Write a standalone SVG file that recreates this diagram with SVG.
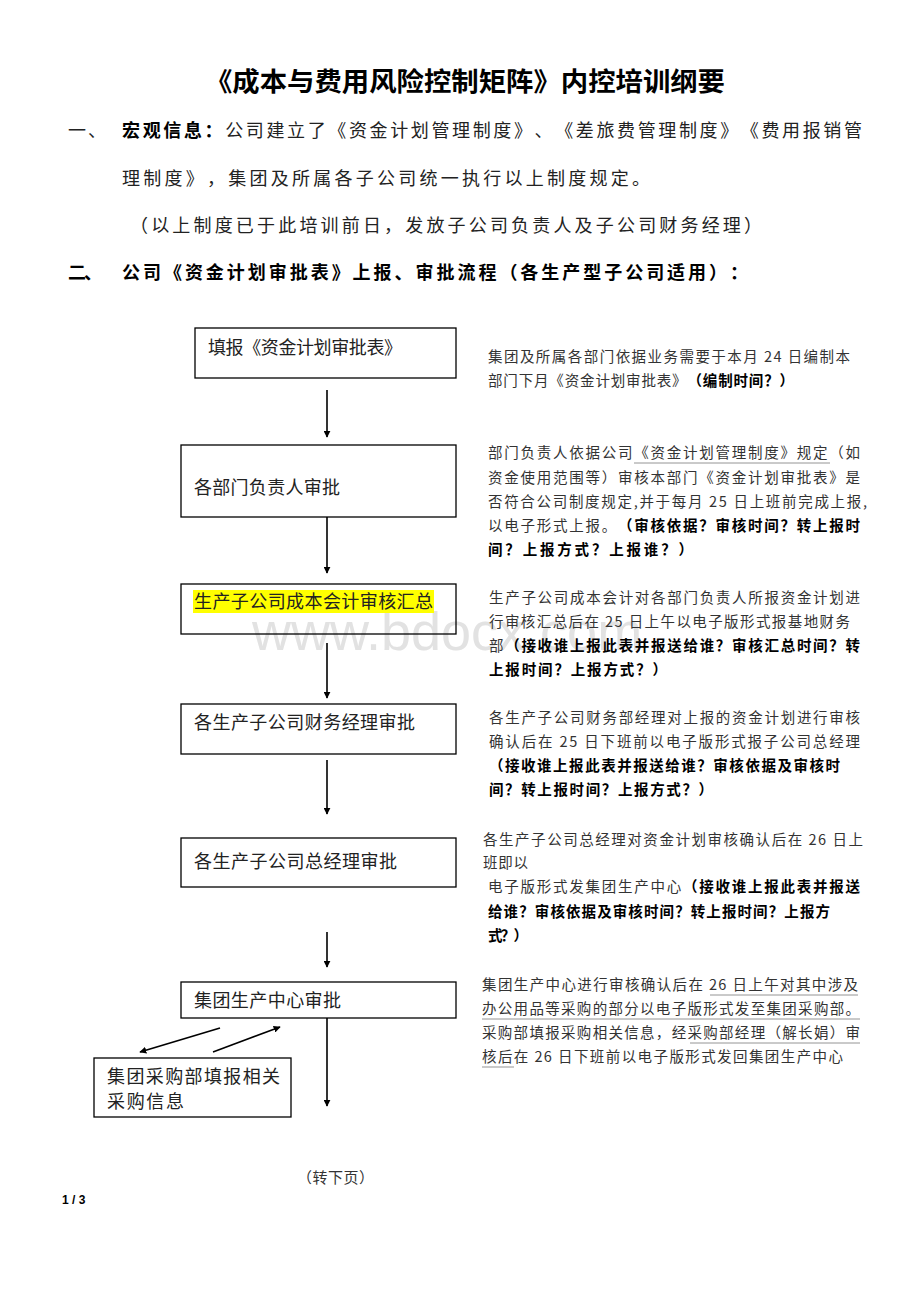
<svg xmlns="http://www.w3.org/2000/svg" width="920" height="1302" viewBox="0 0 920 1302">
<style>
text{font-family:"Noto Sans CJK SC","Liberation Sans",sans-serif;fill:#222;text-spacing-trim:space-all}
.t{font-size:18px}
.h{font-size:18px;font-weight:bold;fill:#000}
.r{font-size:14.5px;fill:#333}
.b{font-weight:bold;fill:#000}
.box{fill:none;stroke:#000;stroke-width:1.3}
.lbl{font-size:18px;fill:#222}
.ar{stroke:#000;stroke-width:1.6;fill:none;marker-end:url(#ah)}
.ul{stroke:#888;stroke-width:0.9}
.wm{font-family:"Liberation Sans",sans-serif;font-size:54px;fill:#e2e2e2}
</style>
<defs>
<marker id="ah" viewBox="0 0 10 10" refX="9" refY="5" markerWidth="7" markerHeight="7" markerUnits="userSpaceOnUse" orient="auto">
<path d="M0,0 L10,5 L0,10 z" fill="#000"/>
</marker>
</defs>
<rect width="920" height="1302" fill="#fff"/>
<text class="wm" x="252" y="650">www.bdocx.com</text>

<g id="header">
<text x="205" y="91" style="font-size:26px;font-weight:bold;fill:#000" textLength="520" lengthAdjust="spacingAndGlyphs">《成本与费用风险控制矩阵》内控培训纲要</text>
<text x="68" y="137" class="t" textLength="38" lengthAdjust="spacing">一、</text>
<text x="122" y="137" class="t" textLength="740" lengthAdjust="spacing"><tspan class="b">宏观信息：</tspan>公司建立了《资金计划管理制度》、《差旅费管理制度》《费用报销管</text>
<text x="122" y="185" class="t" textLength="528" lengthAdjust="spacing">理制度》，集团及所属各子公司统一执行以上制度规定。</text>
<text x="130" y="232" class="t" textLength="632" lengthAdjust="spacing">（以上制度已于此培训前日，发放子公司负责人及子公司财务经理）</text>
<text x="68" y="279" class="h" textLength="34" lengthAdjust="spacing">二、</text>
<text x="122" y="279" class="h" textLength="626" lengthAdjust="spacing">公司《资金计划审批表》上报、审批流程（各生产型子公司适用）：</text>
</g>

<g id="connectors">
<line class="ar" x1="327" y1="390" x2="327" y2="437"/>
<line class="ar" x1="327" y1="517" x2="327" y2="573"/>
<line class="ar" x1="327" y1="643" x2="327" y2="698"/>
<line class="ar" x1="327" y1="760" x2="327" y2="814"/>
<line class="ar" x1="327" y1="932" x2="327" y2="967"/>
<line class="ar" x1="327" y1="1018" x2="327" y2="1106"/>
<line class="ar" x1="220" y1="1028" x2="140" y2="1052"/>
<line class="ar" x1="213" y1="1052" x2="280" y2="1027"/>
</g>

<g id="n1">
<rect class="box" x="195" y="328" width="261" height="50"/>
<text class="lbl" x="208" y="354" textLength="194" lengthAdjust="spacing">填报《资金计划审批表》</text>
</g>
<g id="n2">
<rect class="box" x="181" y="445" width="275" height="72"/>
<text class="lbl" x="194" y="494" textLength="146" lengthAdjust="spacing">各部门负责人审批</text>
</g>
<g id="n3">
<rect class="box" x="181" y="584" width="275" height="50"/>
<rect x="193" y="590" width="241" height="23" fill="#ffff00"/>
<text class="lbl" x="194" y="608" textLength="239" lengthAdjust="spacing">生产子公司成本会计审核汇总</text>
</g>
<g id="n4">
<rect class="box" x="181" y="704" width="275" height="50"/>
<text class="lbl" x="194" y="729" textLength="221" lengthAdjust="spacing">各生产子公司财务经理审批</text>
</g>
<g id="n5">
<rect class="box" x="181" y="838" width="275" height="49"/>
<text class="lbl" x="194" y="868" textLength="203" lengthAdjust="spacing">各生产子公司总经理审批</text>
</g>
<g id="n6">
<rect class="box" x="181" y="982" width="275" height="36"/>
<text class="lbl" x="194" y="1007" textLength="147" lengthAdjust="spacing">集团生产中心审批</text>
</g>
<g id="n7">
<rect class="box" x="94" y="1058" width="197" height="59"/>
<text class="lbl" x="107" y="1083" textLength="173" lengthAdjust="spacing">集团采购部填报相关</text>
<text class="lbl" x="107" y="1108" textLength="77" lengthAdjust="spacing">采购信息</text>
</g>

<g id="note1">
<text class="r" x="488" y="362" textLength="362" lengthAdjust="spacing">集团及所属各部门依据业务需要于本月 24 日编制本</text>
<text class="r" x="488" y="386" textLength="306" lengthAdjust="spacing">部门下月《资金计划审批表》<tspan class="b">（编制时间？）</tspan></text>
</g>
<g id="note2">
<text class="r" x="488" y="458" textLength="372" lengthAdjust="spacing">部门负责人依据公司《资金计划管理制度》规定（如</text>
<line class="ul" x1="634" y1="463" x2="830" y2="463"/>
<text class="r" x="488" y="483" textLength="372" lengthAdjust="spacing">资金使用范围等）审核本部门《资金计划审批表》是</text>
<text class="r" x="488" y="507" textLength="379" lengthAdjust="spacing">否符合公司制度规定,并于每月 25 日上班前完成上报,</text>
<text class="r" x="488" y="531" textLength="372" lengthAdjust="spacing">以电子形式上报。<tspan class="b">（审核依据？审核时间？转上报时</tspan></text>
<text class="r b" x="488" y="555" textLength="205" lengthAdjust="spacing">间？上报方式？上报谁？）</text>
</g>
<g id="note3">
<text class="r" x="489" y="603" textLength="371" lengthAdjust="spacing">生产子公司成本会计对各部门负责人所报资金计划进</text>
<text class="r" x="489" y="627" textLength="361" lengthAdjust="spacing">行审核汇总后在 25 日上午以电子版形式报基地财务</text>
<text class="r" x="489" y="651" textLength="371" lengthAdjust="spacing">部<tspan class="b">（接收谁上报此表并报送给谁？审核汇总时间？转</tspan></text>
<text class="r b" x="489" y="675" textLength="178" lengthAdjust="spacing">上报时间？上报方式？）</text>
</g>
<g id="note4">
<text class="r" x="489" y="723" textLength="371" lengthAdjust="spacing">各生产子公司财务部经理对上报的资金计划进行审核</text>
<text class="r" x="489" y="747" textLength="371" lengthAdjust="spacing">确认后在 25 日下班前以电子版形式报子公司总经理</text>
<text class="r b" x="489" y="771" textLength="351" lengthAdjust="spacing">（接收谁上报此表并报送给谁？审核依据及审核时</text>
<text class="r b" x="489" y="795" textLength="224" lengthAdjust="spacing">间？转上报时间？上报方式？）</text>
</g>
<g id="note5">
<text class="r" x="483" y="845" textLength="380" lengthAdjust="spacing">各生产子公司总经理对资金计划审核确认后在 26 日上</text>
<text class="r" x="483" y="868" textLength="45" lengthAdjust="spacing">班即以</text>
<text class="r" x="488" y="892" textLength="372" lengthAdjust="spacing">电子版形式发集团生产中心<tspan class="b">（接收谁上报此表并报送</tspan></text>
<text class="r b" x="488" y="917" textLength="342" lengthAdjust="spacing">给谁？审核依据及审核时间？转上报时间？上报方</text>
<text class="r b" x="488" y="941" textLength="40" lengthAdjust="spacing">式？）</text>
</g>
<g id="note6">
<text class="r" x="482" y="990" textLength="376" lengthAdjust="spacing">集团生产中心进行审核确认后在 26 日上午对其中涉及</text>
<line class="ul" x1="710" y1="995" x2="858" y2="995"/>
<text class="r" x="482" y="1014" textLength="378" lengthAdjust="spacing">办公用品等采购的部分以电子版形式发至集团采购部。</text>
<line class="ul" x1="482" y1="1019" x2="860" y2="1019"/>
<text class="r" x="482" y="1038" textLength="378" lengthAdjust="spacing">采购部填报采购相关信息，经采购部经理（解长娟）审</text>
<line class="ul" x1="690" y1="1043" x2="860" y2="1043"/>
<text class="r" x="482" y="1062" textLength="361" lengthAdjust="spacing">核后在 26 日下班前以电子版形式发回集团生产中心</text>
<line class="ul" x1="482" y1="1067" x2="514" y2="1067"/>
</g>

<g id="footer">
<text x="297" y="1183" style="font-size:15px;fill:#333;letter-spacing:0.5px">（转下页）</text>
<text x="62" y="1204" style="font-family:'Liberation Sans',sans-serif;font-size:12px;font-weight:bold;fill:#000">1 / 3</text>
</g>
</svg>
